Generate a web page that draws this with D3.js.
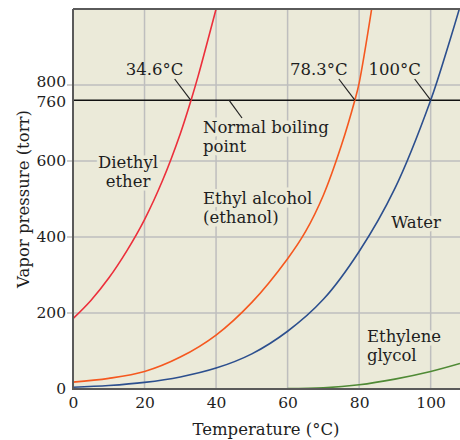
<!DOCTYPE html>
<html>
<head>
<meta charset="utf-8">
<script src="https://cdn.jsdelivr.net/npm/d3@7"></script>
<style>
  html, body { margin: 0; padding: 0; background: #ffffff; }
  svg { display: block; }
  text { font-family: "DejaVu Serif", serif; fill: #1e1e1e; }
</style>
</head>
<body>
<svg id="chart" width="460" height="440"></svg>
<script>
// ---- data ----
const etherT = [0, 5, 10, 15, 20, 25, 30, 33, 35, 40];
const etherP = [185, 233, 292, 363, 446, 548, 672, 760, 824, 1000];

const ethanolT = [0, 10, 20, 30, 40, 50, 60, 65, 70, 75, 78.8, 80, 83.5];
const ethanolP = [18, 28, 46, 84, 142, 228, 343, 414, 510, 640, 760, 805, 1000];

const waterT = [0, 10, 20, 30, 40, 50, 60, 70, 80, 90, 100, 105, 108.2];
const waterP = [4.6, 9.2, 17.5, 31.8, 55, 92.5, 152, 236, 362, 528, 760, 906, 1006];

const glycolT = [60, 70, 80, 90, 100, 108.2];
const glycolP = [1, 3, 11, 26, 46, 67];

const xTicks = [0, 20, 40, 60, 80, 100];
const yTicks = [0, 200, 400, 600, 760, 800];
const yGrid = [200, 400, 600, 800];
const xGrid = [20, 40, 60, 80, 100];
const boilLevel = 760;

const series = [
  { name: "Diethyl ether", T: etherT, P: etherP, color: "#ec2f3b" },
  { name: "Ethyl alcohol", T: ethanolT, P: ethanolP, color: "#f5581f" },
  { name: "Water", T: waterT, P: waterP, color: "#2c4f8e" },
  { name: "Ethylene glycol", T: glycolT, P: glycolP, color: "#4f8a35" }
];

const bp = [
  { label: "34.6°C", T: 32.9 },
  { label: "78.3°C", T: 78.8 },
  { label: "100°C", T: 100 }
];

// ---- layout ----
const svg = d3.select("#chart");
const pL = 73, pR = 460, pT = 9, pB = 389;
const bg = "#ebead9";
const x = d3.scaleLinear().domain([0, 108.2]).range([pL, pR]);
const y = d3.scaleLinear().domain([0, 1000]).range([pB, pT]);
const FS = "16.5px";

svg.append("rect").attr("x", pL).attr("y", pT)
  .attr("width", pR - pL).attr("height", pB - pT).attr("fill", bg);

// grid
const g = svg.append("g");
g.selectAll("line.vg").data(xGrid).enter().append("line")
  .attr("x1", d => x(d)).attr("x2", d => x(d))
  .attr("y1", pT).attr("y2", pB)
  .attr("stroke", "#bebebe").attr("stroke-width", 1.5);
g.selectAll("line.hg").data(yGrid).enter().append("line")
  .attr("x1", pL - 6).attr("x2", pR)
  .attr("y1", d => y(d)).attr("y2", d => y(d))
  .attr("stroke", "#bebebe").attr("stroke-width", 1.5);

// axes (labels through d3 axis, frame drawn separately)
const yAxis = d3.axisLeft(y).tickValues(yTicks).tickSize(0).tickPadding(7);
const yg = svg.append("g").attr("transform", `translate(${pL},0)`).call(yAxis);
yg.select(".domain").remove();
yg.selectAll("text").style("font-size", "15.5px").style("font-family", '"DejaVu Serif", serif').attr("fill", "#1e1e1e");
yg.selectAll(".tick").filter(d => d === 800).select("text").attr("dy", "0.12em");
yg.selectAll(".tick").filter(d => d === 760).select("text").attr("dy", "0.42em");

const xAxis = d3.axisBottom(x).tickValues(xTicks).tickSize(0).tickPadding(8);
const xg = svg.append("g").attr("transform", `translate(0,${pB})`).call(xAxis);
xg.select(".domain").remove();
xg.selectAll("text").style("font-size", "15.5px").style("font-family", '"DejaVu Serif", serif').attr("fill", "#1e1e1e");

// text labels with background halo
function label(lines, xPos, yPos, anchor) {
  const t = svg.append("text")
    .attr("x", xPos).attr("y", yPos)
    .attr("text-anchor", anchor || "start")
    .style("font-size", FS)
    .attr("stroke", bg).attr("stroke-width", 7)
    .attr("stroke-linejoin", "round")
    .attr("paint-order", "stroke");
  lines.forEach((s, i) => {
    t.append("tspan").attr("x", xPos).attr("dy", i === 0 ? 0 : 19).text(s);
  });
}
label(["Diethyl", "ether"], 128, 168, "middle");
label(["Normal boiling", "point"], 203, 133);
label(["Ethyl alcohol", "(ethanol)"], 203, 204);
label(["Water"], 416, 228, "middle");
label(["Ethylene", "glycol"], 367, 342);

// boiling line
svg.append("line")
  .attr("x1", pL).attr("x2", pR)
  .attr("y1", y(boilLevel)).attr("y2", y(boilLevel))
  .attr("stroke", "#111").attr("stroke-width", 1.5);

// curves
svg.append("clipPath").attr("id", "clip").append("rect")
  .attr("x", pL).attr("y", pT).attr("width", pR - pL).attr("height", pB - pT);
const line = d3.line().x(d => x(d[0])).y(d => y(d[1])).curve(d3.curveCatmullRom.alpha(0.5));
svg.append("g").attr("clip-path", "url(#clip)")
  .selectAll("path").data(series).enter().append("path")
  .attr("d", s => line(s.T.map((t, i) => [t, s.P[i]])))
  .attr("fill", "none").attr("stroke", s => s.color).attr("stroke-width", 1.6);

// boiling point annotations
svg.selectAll("line.lead").data(bp).enter().append("line")
  .attr("x1", d => x(d.T) - 16).attr("y1", 79)
  .attr("x2", d => x(d.T)).attr("y2", y(boilLevel))
  .attr("stroke", "#222").attr("stroke-width", 1.2);
svg.selectAll("text.bp").data(bp).enter().append("text")
  .attr("x", d => x(d.T) - 36).attr("y", 75)
  .attr("text-anchor", "middle")
  .style("font-size", FS)
  .text(d => d.label);

// leader for "Normal boiling point"
svg.append("line")
  .attr("x1", 229).attr("y1", y(boilLevel))
  .attr("x2", 242).attr("y2", 118)
  .attr("stroke", "#222").attr("stroke-width", 1.2);

// axis frame
svg.append("line").attr("x1", pL).attr("x2", pL).attr("y1", pT).attr("y2", pB + 1)
  .attr("stroke", "#5a5a5a").attr("stroke-width", 2);
svg.append("line").attr("x1", pL).attr("x2", pR).attr("y1", pB).attr("y2", pB)
  .attr("stroke", "#5a5a5a").attr("stroke-width", 2);
svg.append("line").attr("x1", pL).attr("x2", pR).attr("y1", pT).attr("y2", pT)
  .attr("stroke", "#5a5a5a").attr("stroke-width", 2);

// axis titles
svg.append("text").attr("x", 266).attr("y", 435).attr("text-anchor", "middle")
  .style("font-size", FS).text("Temperature (°C)");
svg.append("text").attr("transform", "translate(29,199) rotate(-90)")
  .attr("text-anchor", "middle").style("font-size", FS).text("Vapor pressure (torr)");
</script>
</body>
</html>
